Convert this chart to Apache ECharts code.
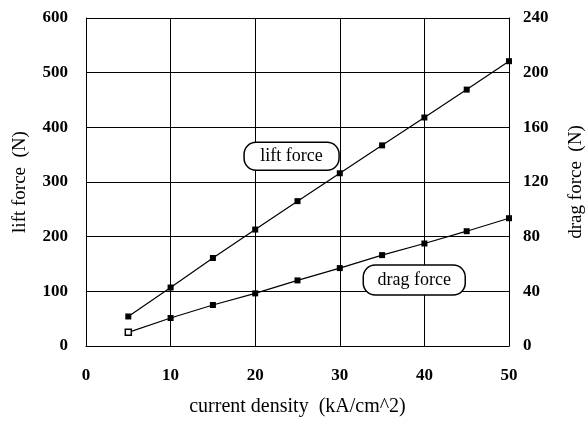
<!DOCTYPE html>
<html><head><meta charset="utf-8">
<script src="https://cdn.jsdelivr.net/npm/echarts@6/dist/echarts.min.js"></script>
<style>html,body{margin:0;padding:0;background:#fff}#c{width:585px;height:422px}</style>
</head><body><div id="c"></div>
<script>
const currentDensity = [5, 10, 15, 20, 25, 30, 35, 40, 45, 50];
const liftForce = [54, 107, 161, 213, 265, 316, 367, 418, 469, 521];
const dragForce = [10, 20.5, 30, 38.5, 48, 57, 66.5, 75, 84, 93.5];
const xTitle = 'current density  (kA/cm^2)';
const leftTitle = 'lift force  (N)';
const rightTitle = 'drag force  (N)';
const liftLabel = 'lift force';
const dragLabel = 'drag force';

const FONT = '"Liberation Serif", "DejaVu Serif", serif';
const chart = echarts.init(document.getElementById('c'), null, {renderer: 'canvas'});
const tickLabel = {color: '#000', fontFamily: FONT, fontSize: 17, fontWeight: 'bold'};
const titleStyle = {color: '#000', fontFamily: FONT, fontSize: 19};
const blackLine = {color: '#000', width: 1};

chart.setOption({
  animation: false,
  backgroundColor: '#fff',
  grid: {left: 86, right: 76, top: 18, bottom: 76, containLabel: false, outerBoundsMode: 'none'},
  xAxis: {
    type: 'value', min: 0, max: 50, interval: 10,
    name: xTitle, nameLocation: 'middle', nameGap: 51,
    nameTextStyle: Object.assign({}, titleStyle, {fontSize: 20}),
    axisLine: {show: true, lineStyle: blackLine},
    axisTick: {show: false},
    axisLabel: Object.assign({margin: 21}, tickLabel),
    splitLine: {show: true, lineStyle: blackLine}
  },
  yAxis: [{
    type: 'value', min: 0, max: 600, interval: 100, position: 'left',
    name: leftTitle, nameLocation: 'middle', nameGap: 56, nameRotate: 90,
    nameTextStyle: titleStyle,
    axisLine: {show: true, lineStyle: blackLine},
    axisTick: {show: false},
    axisLabel: Object.assign({margin: 18}, tickLabel),
    splitLine: {show: true, lineStyle: blackLine}
  }, {
    type: 'value', min: 0, max: 240, interval: 40, position: 'right',
    name: rightTitle, nameLocation: 'middle', nameGap: 58, nameRotate: 90,
    nameTextStyle: titleStyle,
    axisLine: {show: true, lineStyle: blackLine},
    axisTick: {show: false},
    axisLabel: Object.assign({margin: 14}, tickLabel),
    splitLine: {show: false}
  }],
  series: [{
    type: 'line', yAxisIndex: 0,
    data: currentDensity.map((x, i) => [x, liftForce[i]]),
    symbol: 'rect', symbolSize: 6, showAllSymbol: true,
    lineStyle: {color: '#000', width: 1.2},
    itemStyle: {color: '#000'}
  }, {
    type: 'line', yAxisIndex: 1,
    data: currentDensity.map((x, i) => i === 0
      ? {value: [x, dragForce[i]], itemStyle: {color: '#fff', borderColor: '#000', borderWidth: 1.5}}
      : [x, dragForce[i]]),
    symbol: 'rect', symbolSize: 6, showAllSymbol: true,
    lineStyle: {color: '#000', width: 1.2},
    itemStyle: {color: '#000'}
  }]
});

function box(label, cx, cy, w, h) {
  return {
    type: 'group', x: cx, y: cy, z: 100,
    children: [
      {type: 'rect', shape: {x: -w / 2, y: -h / 2, width: w, height: h, r: 12},
       style: {fill: '#fff', stroke: '#000', lineWidth: 1.5}},
      {type: 'text', style: {text: label, x: 0, y: 0, align: 'center', verticalAlign: 'middle',
        fill: '#000', font: '18px ' + FONT}}
    ]
  };
}
const p1 = chart.convertToPixel({xAxisIndex: 0, yAxisIndex: 0}, [24.3, 347]);
const p2 = chart.convertToPixel({xAxisIndex: 0, yAxisIndex: 1}, [38.8, 48.3]);
chart.setOption({graphic: [box(liftLabel, p1[0], p1[1], 95, 28), box(dragLabel, p2[0], p2[1], 102, 30)]});
</script></body></html>
